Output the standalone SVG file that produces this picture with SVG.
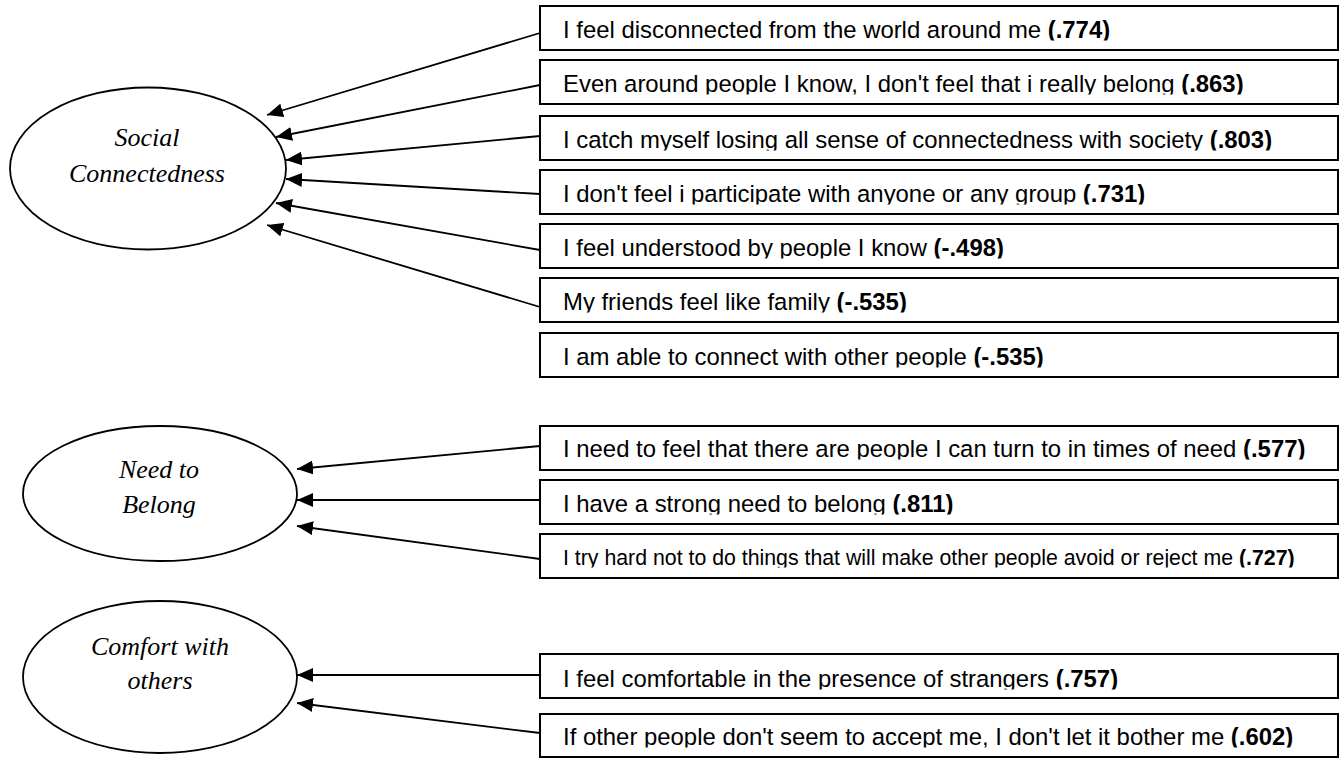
<svg xmlns="http://www.w3.org/2000/svg" width="1341" height="758" viewBox="0 0 1341 758">
<style>
.bg{fill:#fff}
.box{fill:#fff;stroke:#000;stroke-width:2}
.ell{fill:#fff;stroke:#000;stroke-width:1.8}
.lat{font-family:"Liberation Serif","Times New Roman",serif;font-style:italic;font-size:26px;fill:#000;text-anchor:middle}
.item{font-family:"Liberation Sans",Arial,sans-serif;font-size:23.9px;fill:#000}
.small{font-size:21.3px}
.b{font-weight:bold}
.conn line{stroke:#000;stroke-width:1.8;fill:none;marker-end:url(#ah)}
</style>
<defs>
<marker id="ah" viewBox="0 0 16 14" refX="16" refY="7" markerWidth="16" markerHeight="14" orient="auto" markerUnits="userSpaceOnUse">
<path d="M0,0 L16,7 L0,14 z" fill="#000"/>
</marker>
<clipPath id="tc" clipPathUnits="userSpaceOnUse">
<rect x="540" y="6" width="798" height="34.5"/>
<rect x="540" y="60" width="798" height="34.5"/>
<rect x="540" y="116" width="798" height="34.5"/>
<rect x="540" y="170" width="798" height="34.5"/>
<rect x="540" y="224" width="798" height="34.5"/>
<rect x="540" y="278" width="798" height="34.5"/>
<rect x="540" y="333" width="798" height="34.5"/>
<rect x="540" y="426" width="798" height="33.5"/>
<rect x="540" y="480" width="798" height="34.5"/>
<rect x="540" y="534" width="798" height="33.5"/>
<rect x="540" y="654" width="798" height="35.5"/>
<rect x="540" y="714" width="798" height="33.5"/>
</clipPath>
</defs>
<rect class="bg" x="0" y="0" width="1341" height="758"/>

<g id="social-connectedness">
<ellipse class="ell" cx="148" cy="168.5" rx="138" ry="81"/>
<text class="lat" x="147" y="146">Social</text>
<text class="lat" x="147" y="182">Connectedness</text>
</g>
<g id="need-to-belong">
<ellipse class="ell" cx="160" cy="493.5" rx="137" ry="67.5"/>
<text class="lat" x="159" y="478">Need to</text>
<text class="lat" x="159" y="513">Belong</text>
</g>
<g id="comfort-with-others">
<ellipse class="ell" cx="160" cy="677" rx="137" ry="76"/>
<text class="lat" x="160" y="655">Comfort with</text>
<text class="lat" x="160" y="689">others</text>
</g>

<g id="item1"><rect class="box" x="540" y="6" width="798" height="44"/><text class="item" x="563" y="38" clip-path="url(#tc)">I feel disconnected from the world around me <tspan class="b">(.774)</tspan></text></g>
<g id="item2"><rect class="box" x="540" y="60" width="798" height="44"/><text class="item" x="563" y="92" clip-path="url(#tc)">Even around people I know, I don't feel that i really belong <tspan class="b">(.863)</tspan></text></g>
<g id="item3"><rect class="box" x="540" y="116" width="798" height="44"/><text class="item" x="563" y="148" clip-path="url(#tc)">I catch myself losing all sense of connectedness with society <tspan class="b">(.803)</tspan></text></g>
<g id="item4"><rect class="box" x="540" y="170" width="798" height="44"/><text class="item" x="563" y="202" clip-path="url(#tc)">I don't feel i participate with anyone or any group <tspan class="b">(.731)</tspan></text></g>
<g id="item5"><rect class="box" x="540" y="224" width="798" height="44"/><text class="item" x="563" y="256" clip-path="url(#tc)">I feel understood by people I know <tspan class="b">(-.498)</tspan></text></g>
<g id="item6"><rect class="box" x="540" y="278" width="798" height="44"/><text class="item" x="563" y="310" clip-path="url(#tc)">My friends feel like family <tspan class="b">(-.535)</tspan></text></g>
<g id="item7"><rect class="box" x="540" y="333" width="798" height="44"/><text class="item" x="563" y="365" clip-path="url(#tc)">I am able to connect with other people <tspan class="b">(-.535)</tspan></text></g>
<g id="item8"><rect class="box" x="540" y="426" width="798" height="44"/><text class="item" x="563" y="457" clip-path="url(#tc)">I need to feel that there are people I can turn to in times of need <tspan class="b">(.577)</tspan></text></g>
<g id="item9"><rect class="box" x="540" y="480" width="798" height="44"/><text class="item" x="563" y="512" clip-path="url(#tc)">I have a strong need to belong <tspan class="b">(.811)</tspan></text></g>
<g id="item10"><rect class="box" x="540" y="534" width="798" height="44"/><text class="item small" x="563" y="565" clip-path="url(#tc)">I try hard not to do things that will make other people avoid or reject me <tspan class="b">(.727)</tspan></text></g>
<g id="item11"><rect class="box" x="540" y="654" width="798" height="44"/><text class="item" x="563" y="687" clip-path="url(#tc)">I feel comfortable in the presence of strangers <tspan class="b">(.757)</tspan></text></g>
<g id="item12"><rect class="box" x="540" y="714" width="798" height="43"/><text class="item" x="563" y="745" clip-path="url(#tc)">If other people don't seem to accept me, I don't let it bother me <tspan class="b">(.602)</tspan></text></g>

<g id="connectors" class="conn">
<line x1="540" y1="33" x2="267" y2="115"/>
<line x1="540" y1="85" x2="276" y2="137"/>
<line x1="540" y1="136" x2="286" y2="160"/>
<line x1="540" y1="194" x2="286" y2="179"/>
<line x1="540" y1="250" x2="276" y2="203"/>
<line x1="540" y1="307" x2="267" y2="225"/>
<line x1="540" y1="446" x2="297" y2="469"/>
<line x1="540" y1="500" x2="297" y2="500"/>
<line x1="540" y1="559" x2="297" y2="526"/>
<line x1="540" y1="675" x2="297" y2="675"/>
<line x1="540" y1="733" x2="297" y2="703"/>
</g>
</svg>
